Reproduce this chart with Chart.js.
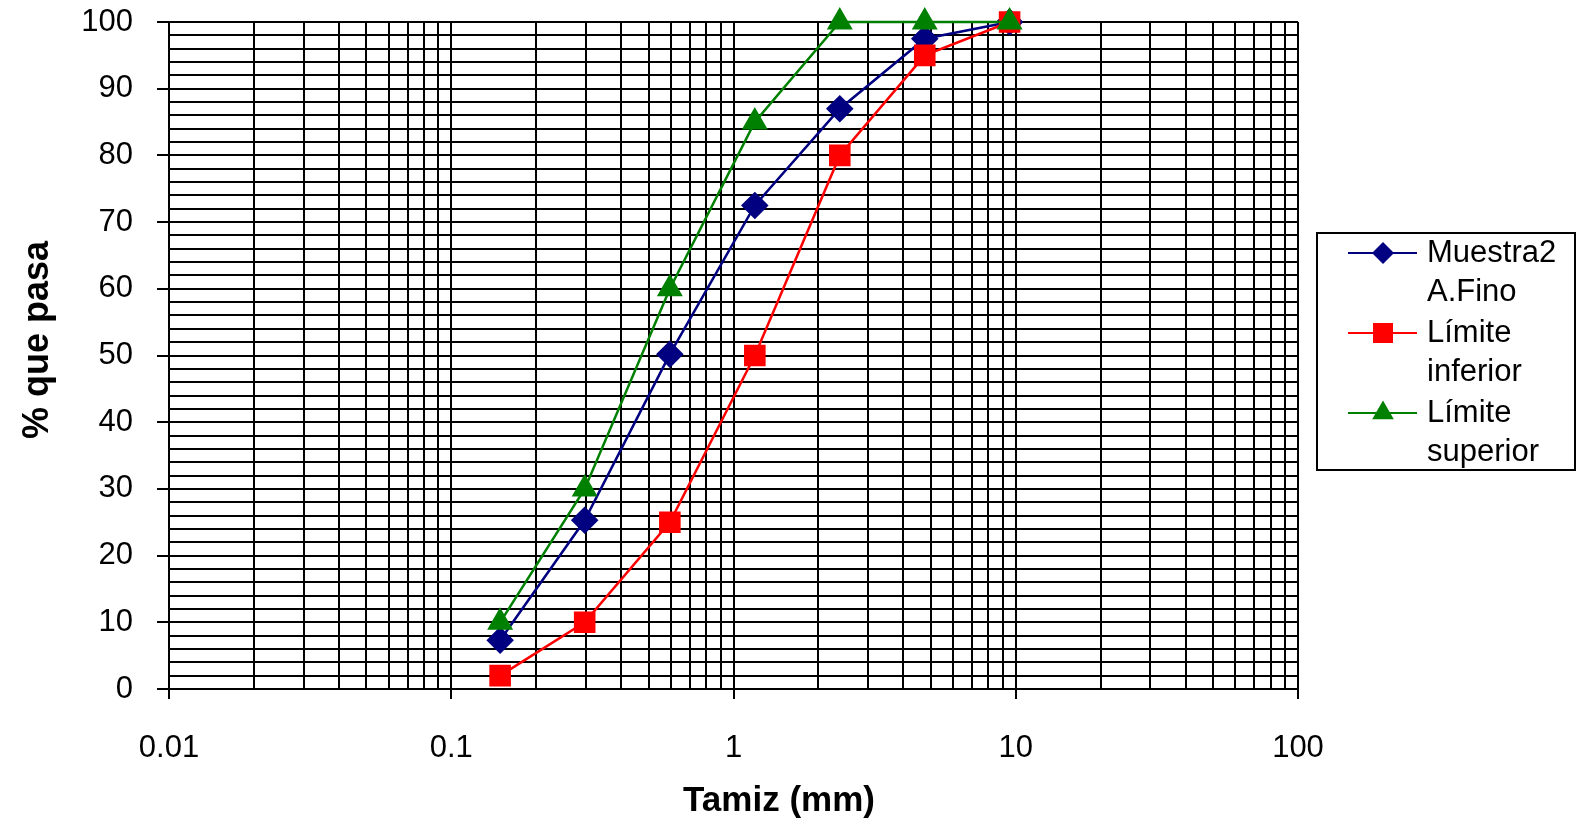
<!DOCTYPE html>
<html>
<head>
<meta charset="utf-8">
<script src="https://cdn.jsdelivr.net/npm/chart.js@4/dist/chart.umd.min.js"></script>
<style>
  html, body { margin: 0; padding: 0; background: #fff; }
  #wrap { width: 1578px; height: 830px; position: relative; }
</style>
</head>
<body>
<div id="wrap"><canvas id="c" width="1578" height="830"></canvas></div>
<script>
// ---- data ----
const sieveSizes = [0.149, 0.297, 0.595, 1.19, 2.38, 4.76, 9.51];
const muestra    = [7.3, 25.3, 50.2, 72.5, 87, 97.5, 100];
const limInf     = [2, 10, 25, 50, 80, 95, 100];
const limSup     = [10, 30, 60, 85, 100, 100, 100];
const seriesNames = ['Muestra2 A.Fino', 'Límite inferior', 'Límite superior'];
const xMajorValues = [0.01, 0.1, 1, 10, 100];
const xTickLabels  = ['0.01', '0.1', '1', '10', '100'];
const yTickLabels  = ['0', '10', '20', '30', '40', '50', '60', '70', '80', '90', '100'];
const xTitle = 'Tamiz (mm)';
const yTitle = '% que pasa';

// ---- tick helpers ----
const xTickValues = [];
for (let d = 0; d < xMajorValues.length - 1; d++) {
  for (let k = 1; k <= 9; k++) xTickValues.push(Number((xMajorValues[d] * k).toPrecision(3)));
}
xTickValues.push(xMajorValues[xMajorValues.length - 1]);
const yTickValues = [];
for (let v = 0; v <= 100; v += 2) yTickValues.push(v);

const FONT = '"Liberation Sans", Arial, sans-serif';
const toPts = (ys) => ys.map((y, i) => ({ x: sieveSizes[i], y }));

const isXMajor = (v) => xMajorValues.some(m => Math.abs(m - v) / m < 1e-6);

const legendPlugin = {
  id: 'customLegend',
  afterDraw(chart) {
    const ctx = chart.ctx;
    ctx.save();
    // box
    ctx.strokeStyle = '#000';
    ctx.lineWidth = 2;
    ctx.strokeRect(1317, 233, 258, 237);
    const rows = [253, 333, 413];
    ctx.font = '31px ' + FONT;
    ctx.textBaseline = 'middle';
    ctx.textAlign = 'left';
    chart.data.datasets.forEach((ds, i) => {
      const y = rows[i];
      ctx.strokeStyle = ds.borderColor;
      ctx.lineWidth = 2;
      ctx.beginPath(); ctx.moveTo(1348, y); ctx.lineTo(1417, y); ctx.stroke();
      ctx.fillStyle = ds.backgroundColor;
      const cx = 1383;
      ctx.beginPath();
      if (ds.pointStyle === 'rectRot') {
        const r = 11;
        ctx.moveTo(cx, y - r); ctx.lineTo(cx + r, y); ctx.lineTo(cx, y + r); ctx.lineTo(cx - r, y);
      } else if (ds.pointStyle === 'rect') {
        const s = 10;
        ctx.rect(cx - s, y - s, 2 * s, 2 * s);
      } else {
        const r = 12.5;
        ctx.moveTo(cx, y - r); ctx.lineTo(cx + r * 0.866, y + r * 0.5); ctx.lineTo(cx - r * 0.866, y + r * 0.5);
      }
      ctx.closePath(); ctx.fill();
      ctx.fillStyle = '#000';
      const parts = ds.label.split(' ');
      parts.forEach((t, j) => ctx.fillText(t, 1427, y + j * 39));
    });
    // x title
    ctx.font = 'bold 35px ' + FONT;
    ctx.textAlign = 'center';
    ctx.textBaseline = 'middle';
    ctx.fillText(xTitle, 779, 801);
    // y title
    ctx.translate(38, 340);
    ctx.rotate(-Math.PI / 2);
    ctx.font = 'bold 36px ' + FONT;
    ctx.fillText(yTitle, 0, 0);
    ctx.restore();
  }
};

new Chart(document.getElementById('c'), {
  type: 'line',
  data: {
    datasets: [
      { label: seriesNames[0], data: toPts(muestra), borderColor: '#000080', backgroundColor: '#000080',
        pointStyle: 'rectRot', pointRadius: 12, borderWidth: 2.5, order: 3 },
      { label: seriesNames[1], data: toPts(limInf), borderColor: '#FF0000', backgroundColor: '#FF0000',
        pointStyle: 'rect', pointRadius: 13.5, borderWidth: 2.5, order: 2 },
      { label: seriesNames[2], data: toPts(limSup), borderColor: '#008000', backgroundColor: '#008000',
        pointStyle: 'triangle', pointRadius: 12.5, borderWidth: 2.5, order: 1 }
    ]
  },
  options: {
    responsive: false,
    animation: false,
    clip: false,
    elements: { line: { tension: 0 }, point: { borderWidth: 0, hoverRadius: 12 } },
    layout: { autoPadding: false, padding: { top: 22, right: 280, bottom: 0, left: 0 } },
    plugins: { legend: { display: false }, tooltip: { enabled: false } },
    scales: {
      x: {
        type: 'logarithmic',
        min: 0.01, max: 100,
        afterBuildTicks: (s) => { s.ticks = xTickValues.map(v => ({ value: v })); },
        afterFit: (s) => { s.height = 141; s.paddingLeft = 0; s.paddingRight = 0; },
        ticks: {
          autoSkip: false, maxRotation: 0, padding: 31, color: '#000',
          font: { family: FONT, size: 31 },
          callback: (v) => { const i = xMajorValues.findIndex(m => Math.abs(m - v) / m < 1e-6); return i >= 0 ? xTickLabels[i] : ''; }
        },
        grid: {
          color: '#000', lineWidth: 2, tickLength: 10,
          tickColor: (c) => (c.tick && isXMajor(c.tick.value)) ? '#000' : 'rgba(0,0,0,0)'
        },
        border: { color: '#000', width: 2 },
        title: { display: false }
      },
      y: {
        min: 0, max: 100,
        afterBuildTicks: (s) => { s.ticks = yTickValues.map(v => ({ value: v })); },
        afterFit: (s) => { s.width = 169; s.paddingTop = 0; s.paddingBottom = 0; },
        ticks: {
          autoSkip: false, padding: 24, color: '#000',
          font: { family: FONT, size: 31 },
          callback: (v) => (v % 10 === 0) ? yTickLabels[v / 10] : ''
        },
        grid: {
          color: '#000', lineWidth: 2, tickLength: 12,
          tickColor: (c) => (c.tick && c.tick.value % 10 === 0) ? '#000' : 'rgba(0,0,0,0)'
        },
        border: { color: '#000', width: 2 },
        title: { display: false }
      }
    }
  },
  plugins: [legendPlugin]
});
</script>
</body>
</html>
